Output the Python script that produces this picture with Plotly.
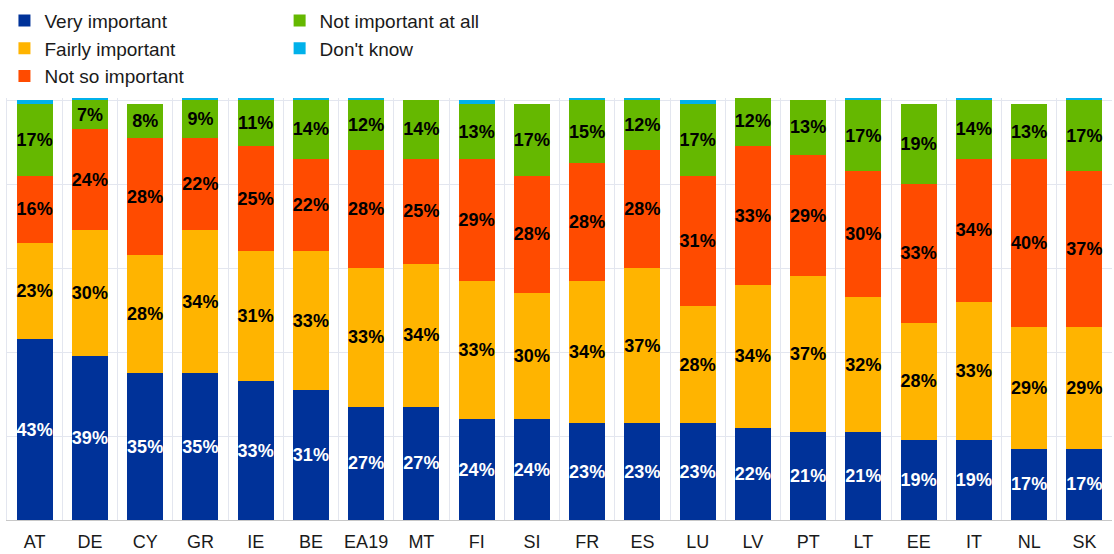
import plotly.graph_objects as go

# Countries, ordered by share answering "Very important"
countries = ["AT", "DE", "CY", "GR", "IE", "BE", "EA19", "MT", "FI", "SI",
             "FR", "ES", "LU", "LV", "PT", "LT", "EE", "IT", "NL", "SK"]

very_important = [43, 39, 35, 35, 33, 31, 27, 27, 24, 24,
                  23, 23, 23, 22, 21, 21, 19, 19, 17, 17]
fairly_important = [23, 30, 28, 34, 31, 33, 33, 34, 33, 30,
                    34, 37, 28, 34, 37, 32, 28, 33, 29, 29]
not_so_important = [16, 24, 28, 22, 25, 22, 28, 25, 29, 28,
                    28, 28, 31, 33, 29, 30, 33, 34, 40, 37]
not_important_at_all = [17, 7, 8, 9, 11, 14, 12, 14, 13, 17,
                        15, 12, 17, 12, 13, 17, 19, 14, 13, 17]
dont_know = [1, 0.5, 0, 0.5, 0.5, 0.5, 0.5, 0, 1, 0,
             0.5, 0.5, 1, 0, 0, 0.5, 0, 0.5, 0, 0.5]

series = [
    ("Very important", very_important, "#003299", "white", "legend"),
    ("Fairly important", fairly_important, "#FFB400", "black", "legend"),
    ("Not so important", not_so_important, "#FF4B00", "black", "legend"),
    ("Not important at all", not_important_at_all, "#65B800", "black", "legend2"),
    ("Don't know", dont_know, "#00B1EA", "black", "legend2"),
]

FONT = "Liberation Sans, Arial, sans-serif"
TEXT = "#1a1a1a"

fig = go.Figure()
for name, vals, color, txtcolor, leg in series:
    labelled = name != "Don't know"
    fig.add_trace(go.Bar(
        x=countries,
        y=vals,
        name=name,
        marker=dict(color=color, line=dict(width=0)),
        text=[f"{v}%" for v in vals] if labelled else None,
        textposition="inside" if labelled else "none",
        insidetextanchor="middle",
        textangle=0,
        constraintext="none",
        textfont=dict(family=FONT, size=18, color=txtcolor, weight="bold"),
        legend=leg,
    ))

legend_style = dict(
    xref="container", yref="container",
    y=0.997, xanchor="left", yanchor="top",
    orientation="v", traceorder="normal",
    font=dict(family=FONT, size=19, color=TEXT),
    bgcolor="rgba(0,0,0,0)",
)

fig.update_layout(
    barmode="stack",
    bargap=0.35,
    width=1114,
    height=554,
    margin=dict(l=7, r=2, t=98, b=34, autoexpand=False),
    paper_bgcolor="white",
    plot_bgcolor="white",
    font=dict(family=FONT, size=18, color=TEXT),
    uniformtext=dict(minsize=18, mode="show"),
    legend=dict(x=0.004, **legend_style),
    legend2=dict(x=0.251, **legend_style),
    showlegend=True,
)

fig.update_xaxes(
    type="category",
    tickson="boundaries",
    showgrid=True,
    gridcolor="#e3e6ef",
    gridwidth=1,
    showline=True,
    linecolor="#c8c8c8",
    ticks="",
    tickangle=0,
    ticklabelstandoff=5,
    tickfont=dict(family=FONT, size=18, color=TEXT),
    fixedrange=True,
)
fig.update_yaxes(
    range=[0, 100.5],
    dtick=20,
    showgrid=True,
    gridcolor="#e3e6ef",
    gridwidth=1,
    showticklabels=False,
    zeroline=False,
    showline=True,
    linecolor="#e3e6ef",
    fixedrange=True,
)

fig.write_html("out.html")
